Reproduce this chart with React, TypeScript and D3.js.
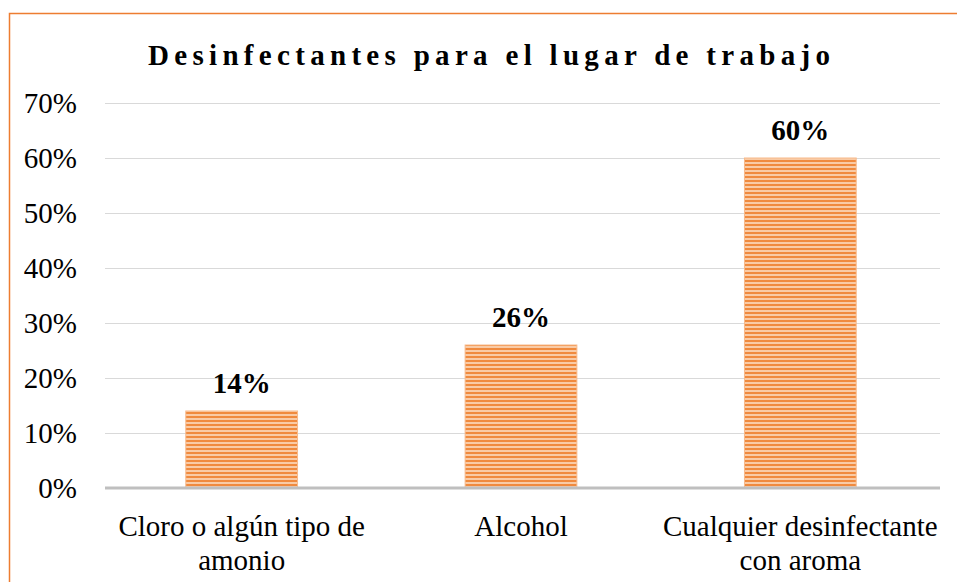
import { useEffect, useRef } from 'react';
import * as d3 from 'd3';

const categories = ['Cloro o algún tipo de|amonio', 'Alcohol', 'Cualquier desinfectante|con aroma'];
const values = [0.14, 0.26, 0.6];
const valueLabels = ['14%', '26%', '60%'];
const yTicks = [0, 0.1, 0.2, 0.3, 0.4, 0.5, 0.6, 0.7];
const title = 'Desinfectantes para el lugar de trabajo';

const App = () => {
  const svgRef = useRef<SVGSVGElement>(null);

  useEffect(() => {
    if (!svgRef.current) return;
    const width = 957;
    const height = 582;
    const margin = { left: 102, right: 17, top: 103, bottom: 94 };
    const font = "'Liberation Serif', 'Times New Roman', serif";

    const svg = d3.select(svgRef.current);
    svg.selectAll('*').remove();

    // striped fill for the bars
    const defs = svg.append('defs');
    const pat = defs.append('pattern')
      .attr('id', 'stripes')
      .attr('patternUnits', 'userSpaceOnUse')
      .attr('width', 8)
      .attr('height', 4);
    pat.append('rect').attr('width', 8).attr('height', 4).attr('fill', '#F9CBA6');
    pat.append('rect').attr('width', 8).attr('height', 2).attr('fill', '#F08A3E');

    // outer orange frame
    svg.append('path')
      .attr('d', `M9.5,${height} V13.5 H${width}`)
      .attr('fill', 'none')
      .attr('stroke', '#ED7D31')
      .attr('stroke-width', 1.5);

    const x = d3.scaleBand<string>()
      .domain(categories)
      .range([margin.left, width - margin.right])
      .paddingInner(0.6)
      .paddingOuter(0.3);

    const y = d3.scaleLinear()
      .domain([0, 0.7])
      .range([height - margin.bottom, margin.top]);

    // grid
    svg.append('g')
      .selectAll('line')
      .data(yTicks.filter(t => t > 0))
      .enter()
      .append('line')
      .attr('x1', margin.left + 3)
      .attr('x2', width - margin.right)
      .attr('y1', d => Math.round(y(d)) + 0.5)
      .attr('y2', d => Math.round(y(d)) + 0.5)
      .attr('stroke', '#D9D9D9')
      .attr('stroke-width', 1);

    // y tick labels
    svg.append('g')
      .selectAll('text')
      .data(yTicks)
      .enter()
      .append('text')
      .attr('x', 77)
      .attr('y', d => y(d) + 10)
      .attr('text-anchor', 'end')
      .style('font-family', font)
      .attr('font-size', 29)
      .attr('fill', '#000')
      .text(d => d3.format('.0%')(d));

    // bars
    svg.append('g')
      .selectAll('rect')
      .data(values)
      .enter()
      .append('rect')
      .attr('x', (_, i) => x(categories[i])!)
      .attr('y', d => y(d))
      .attr('width', x.bandwidth())
      .attr('height', d => y(0) - y(d))
      .attr('fill', 'url(#stripes)')
      .attr('stroke', '#F7B98A')
      .attr('stroke-width', 1);

    // value labels
    svg.append('g')
      .selectAll('text')
      .data(values)
      .enter()
      .append('text')
      .attr('x', (_, i) => x(categories[i])! + x.bandwidth() / 2)
      .attr('y', d => y(d) - 18)
      .attr('text-anchor', 'middle')
      .style('font-family', font)
      .attr('font-size', 29)
      .attr('font-weight', 'bold')
      .attr('fill', '#000')
      .text((_, i) => valueLabels[i]);

    // baseline axis
    svg.append('line')
      .attr('x1', margin.left + 3)
      .attr('x2', width - margin.right)
      .attr('y1', y(0))
      .attr('y2', y(0))
      .attr('stroke', '#BFBFBF')
      .attr('stroke-width', 3);

    // category labels
    const cat = svg.append('g')
      .selectAll('text')
      .data(categories)
      .enter()
      .append('text')
      .attr('text-anchor', 'middle')
      .style('font-family', font)
      .attr('font-size', 29)
      .attr('fill', '#000');
    cat.each(function (d) {
      const cx = x(d)! + x.bandwidth() / 2;
      d.split('|').forEach((line, j) => {
        d3.select(this).append('tspan')
          .attr('x', cx)
          .attr('y', 536 + j * 34)
          .text(line);
      });
    });

    // title
    svg.append('text')
      .attr('x', 489)
      .attr('y', 65)
      .attr('text-anchor', 'middle')
      .style('font-family', font)
      .attr('font-size', 29)
      .attr('font-weight', 'bold')
      .attr('textLength', 682)
      .attr('lengthAdjust', 'spacing')
      .attr('fill', '#000')
      .text(title);
  }, []);

  return (
    <div style={{ position: 'absolute', left: 0, top: 0 }}>
      <svg ref={svgRef} width={957} height={582} style={{ display: 'block', background: '#fff' }}></svg>
    </div>
  );
};

export default App;
